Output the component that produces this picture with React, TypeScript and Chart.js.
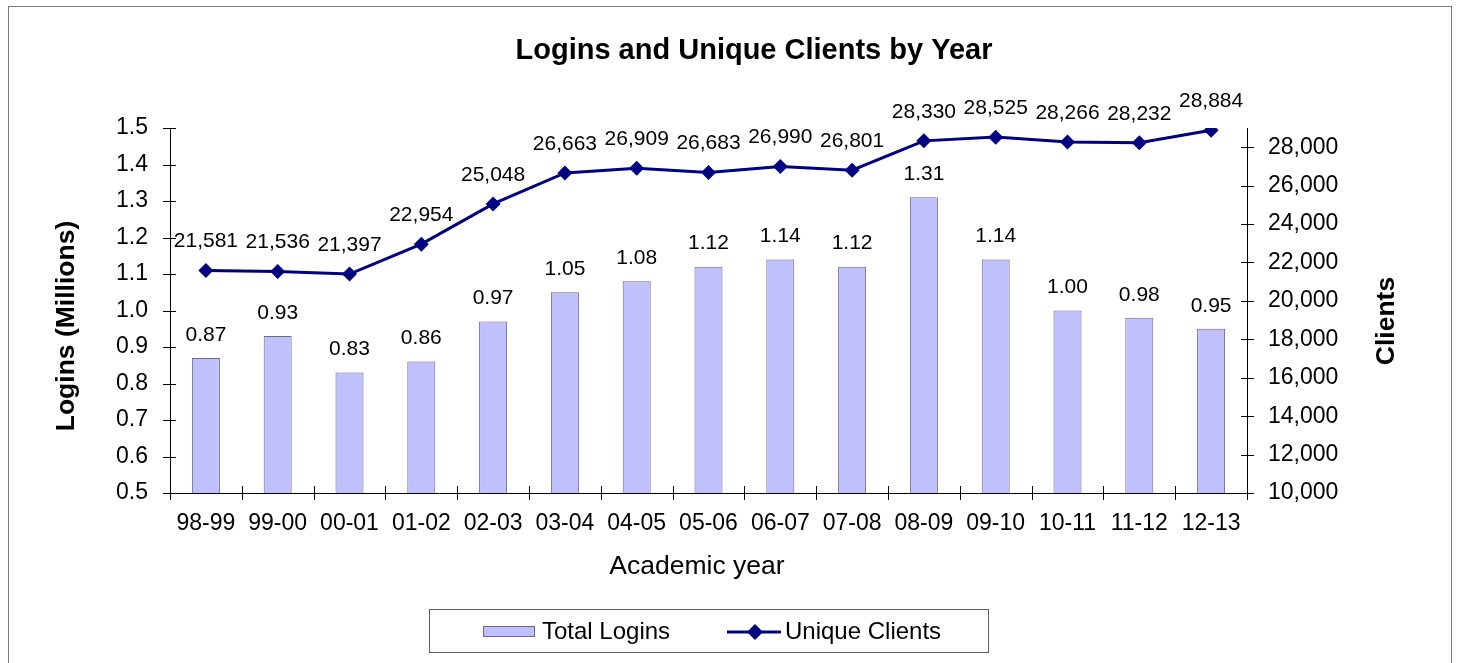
import React, { useEffect, useRef } from 'react';
import { Chart, registerables } from 'chart.js';

Chart.register(...registerables);

const years = ['98-99', '99-00', '00-01', '01-02', '02-03', '03-04', '04-05', '05-06', '06-07', '07-08', '08-09', '09-10', '10-11', '11-12', '12-13'];
const totalLogins = [0.87, 0.93, 0.83, 0.86, 0.97, 1.05, 1.08, 1.12, 1.14, 1.12, 1.31, 1.14, 1.0, 0.98, 0.95];
const uniqueClients = [21581, 21536, 21397, 22954, 25048, 26663, 26909, 26683, 26990, 26801, 28330, 28525, 28266, 28232, 28884];
const leftTicks = [0.5, 0.6, 0.7, 0.8, 0.9, 1.0, 1.1, 1.2, 1.3, 1.4, 1.5];
const rightTicks = [10000, 12000, 14000, 16000, 18000, 20000, 22000, 24000, 26000, 28000];

const TITLE = 'Logins and Unique Clients by Year';
const LEFT_TITLE = 'Logins (Millions)';
const RIGHT_TITLE = 'Clients';
const X_TITLE = 'Academic year';
const BAR_LABEL = 'Total Logins';
const LINE_LABEL = 'Unique Clients';

const FONT = '"Liberation Sans", Arial, sans-serif';
const BAR_FILL = '#C0C0FF';
const BAR_BORDER = '#6a6a80';
const NAVY = '#000080';

const fmtInt = (v: number) => v.toLocaleString('en-US');

const decorPlugin = {
  id: 'decor',
  afterDraw(chart: any) {
    const ctx: CanvasRenderingContext2D = chart.ctx;
    const area = chart.chartArea;
    const yL = chart.scales.y;
    const yR = chart.scales.y1;
    ctx.save();

    // outer border
    ctx.strokeStyle = '#7a7a7a';
    ctx.lineWidth = 1;
    ctx.strokeRect(8.5, 6.5, 1443, 720);

    // title
    ctx.fillStyle = '#000';
    ctx.textAlign = 'center';
    ctx.textBaseline = 'middle';
    ctx.font = `bold 29px ${FONT}`;
    ctx.fillText(TITLE, 754, 51);

    // axis titles
    ctx.font = `bold 26.5px ${FONT}`;
    ctx.save();
    ctx.translate(67, 326);
    ctx.rotate(-Math.PI / 2);
    ctx.fillText(LEFT_TITLE, 0, 0);
    ctx.restore();
    ctx.save();
    ctx.translate(1387, 321);
    ctx.rotate(-Math.PI / 2);
    ctx.fillText(RIGHT_TITLE, 0, 0);
    ctx.restore();
    ctx.font = `26.5px ${FONT}`;
    ctx.fillText(X_TITLE, 697, 567);

    // crossing tick marks
    ctx.strokeStyle = '#000';
    ctx.lineWidth = 1;
    ctx.beginPath();
    yL.ticks.forEach((t: any) => {
      const y = Math.round(yL.getPixelForValue(t.value)) + 0.5;
      ctx.moveTo(area.left - 7, y);
      ctx.lineTo(area.left + 6, y);
    });
    yR.ticks.forEach((t: any) => {
      const y = Math.round(yR.getPixelForValue(t.value)) + 0.5;
      ctx.moveTo(area.right - 6, y);
      ctx.lineTo(area.right + 7, y);
    });
    const n = years.length;
    for (let i = 0; i <= n; i++) {
      const x = Math.round(area.left + (i * (area.right - area.left)) / n) + 0.5;
      ctx.moveTo(x, area.bottom - 7);
      ctx.lineTo(x, area.bottom + 7);
    }
    ctx.stroke();

    // data labels
    ctx.fillStyle = '#000';
    ctx.font = `21px ${FONT}`;
    ctx.textAlign = 'center';
    ctx.textBaseline = 'middle';
    const barMeta = chart.getDatasetMeta(0);
    barMeta.data.forEach((el: any, i: number) => {
      ctx.fillText(totalLogins[i].toFixed(2), el.x, el.y - 23);
    });
    const lineMeta = chart.getDatasetMeta(1);
    lineMeta.data.forEach((el: any, i: number) => {
      ctx.fillText(fmtInt(uniqueClients[i]), el.x, el.y - 29);
    });

    // legend
    ctx.strokeStyle = '#606060';
    ctx.lineWidth = 1;
    ctx.strokeRect(429.5, 609.5, 559, 43);
    ctx.fillStyle = BAR_FILL;
    ctx.fillRect(483, 626, 52, 11);
    ctx.strokeStyle = BAR_BORDER;
    ctx.strokeRect(483.5, 626.5, 51, 10);
    ctx.fillStyle = '#000';
    ctx.font = `24px ${FONT}`;
    ctx.textAlign = 'left';
    ctx.fillText(BAR_LABEL, 542, 632);
    ctx.strokeStyle = NAVY;
    ctx.lineWidth = 3;
    ctx.beginPath();
    ctx.moveTo(727, 632);
    ctx.lineTo(781, 632);
    ctx.stroke();
    ctx.fillStyle = NAVY;
    ctx.beginPath();
    ctx.moveTo(755, 624);
    ctx.lineTo(763, 632);
    ctx.lineTo(755, 640);
    ctx.lineTo(747, 632);
    ctx.closePath();
    ctx.fill();
    ctx.fillStyle = '#000';
    ctx.fillText(LINE_LABEL, 785, 632);

    ctx.restore();
  },
};

export default function App() {
  const ref = useRef<HTMLCanvasElement | null>(null);

  useEffect(() => {
    if (!ref.current) return;
    const chart = new Chart(ref.current, {
      type: 'bar',
      data: {
        labels: years,
        datasets: [
          {
            type: 'bar',
            label: BAR_LABEL,
            data: totalLogins,
            yAxisID: 'y',
            backgroundColor: BAR_FILL,
            borderColor: BAR_BORDER,
            borderWidth: 1,
            barPercentage: 0.39,
            categoryPercentage: 1,
            order: 1,
          },
          {
            type: 'line',
            label: LINE_LABEL,
            data: uniqueClients,
            yAxisID: 'y1',
            borderColor: NAVY,
            backgroundColor: NAVY,
            borderWidth: 3,
            pointStyle: 'rectRot',
            pointRadius: 7.5,
            pointBackgroundColor: NAVY,
            pointBorderColor: NAVY,
            pointBorderWidth: 0,
            tension: 0,
            order: 0,
          },
        ],
      },
      options: {
        responsive: false,
        animation: false,
        layout: { padding: { top: 128, left: 0, right: 0, bottom: 0 } },
        plugins: {
          legend: { display: false },
          title: { display: false },
          tooltip: { enabled: false },
        },
        scales: {
          x: {
            offset: true,
            grid: { display: true, drawOnChartArea: false, drawTicks: false, offset: true },
            border: { display: true, color: '#000', width: 1 },
            ticks: { color: '#000', font: { family: FONT, size: 23 }, padding: 17, maxRotation: 0, autoSkip: false },
            afterFit(scale: any) {
              scale.height = 170;
            },
          },
          y: {
            position: 'left',
            min: 0.5,
            max: 1.5,
            grid: { display: true, drawOnChartArea: false, drawTicks: false },
            border: { display: true, color: '#000', width: 1 },
            ticks: {
              color: '#000',
              font: { family: FONT, size: 23 },
              padding: 22,
              callback: (v: any) => Number(v).toFixed(1),
            },
            afterBuildTicks(scale: any) {
              scale.ticks = leftTicks.map((v) => ({ value: v }));
            },
            afterFit(scale: any) {
              scale.width = 170;
            },
          },
          y1: {
            position: 'right',
            min: 10000,
            max: 29000,
            grid: { display: true, drawOnChartArea: false, drawTicks: false },
            border: { display: true, color: '#000', width: 1 },
            ticks: {
              color: '#000',
              font: { family: FONT, size: 23 },
              padding: 21,
              callback: (v: any) => fmtInt(Number(v)),
            },
            afterBuildTicks(scale: any) {
              scale.ticks = rightTicks.map((v) => ({ value: v }));
            },
            afterFit(scale: any) {
              scale.width = 213;
            },
          },
        },
      },
      plugins: [decorPlugin],
    } as any);
    return () => chart.destroy();
  }, []);

  return (
    <div style={{ position: 'absolute', left: 0, top: 0, width: 1460, height: 663, background: '#fff' }}>
      <canvas ref={ref} width={1460} height={663} style={{ display: 'block' }} />
    </div>
  );
}
